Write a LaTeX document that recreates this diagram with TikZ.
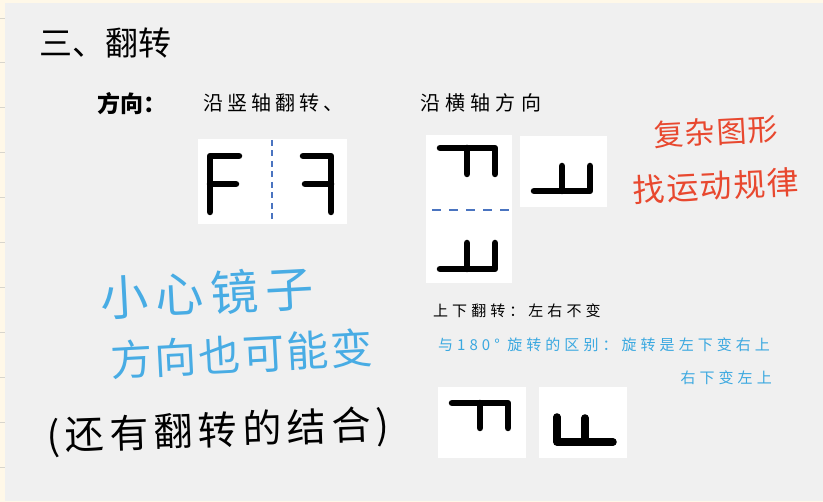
\documentclass[tikz,border=0pt]{standalone}
\usepackage{fontspec}
\setmainfont{Noto Sans CJK SC}
\usepackage{xcolor}
\usepackage{tikz}
\usetikzlibrary{positioning}

\definecolor{paper}{HTML}{F0F0F0}
\definecolor{margin}{HTML}{FFF8E8}
\definecolor{ruleline}{HTML}{D8D5CC}
\definecolor{axisblue}{HTML}{4A74C0}
\definecolor{noteblue}{HTML}{3AA8E0}
\definecolor{inkblue}{HTML}{48ACE4}
\definecolor{inkred}{HTML}{E8482F}

\newcommand{\fs}[1]{\fontsize{#1}{#1}\selectfont}
\newcommand{\spaced}[1]{\addfontfeature{LetterSpace=#1}}

\begin{document}
\begin{tikzpicture}[x=1pt,y=-1pt,
  glyph/.style={line width=6.5pt, line cap=round, line join=round},
  axisline/.style={axisblue, line width=1.8pt},
  card/.style={fill=white},
  txt/.style={inner sep=0pt, anchor=west},
  hand/.style={inner sep=0pt}]

  % Page and margin
  \useasboundingbox (0,0) rectangle (823,502);
  \fill[margin] (0,0) rectangle (823,502);
  \fill[paper] (5,3) rectangle (823,501);
  \foreach \k in {0,...,10}
    \draw[ruleline, line width=0.8pt] (0,18+44.9*\k) -- (5,18+44.9*\k);

  % Title
  \node[txt] (title) at (39,43) {\fs{33}三、翻转};
  \node[txt] (dir) at (97,104) {\fs{23}\bfseries 方向：};
  \node[txt] (vert) at (203,103) {\fs{20}\spaced{20}沿竖轴翻转、};
  \node[txt] (horz) at (420,103) {\fs{20}\spaced{26}沿横轴方向};

  % Vertical axis flip
  \fill[card] (198,139) rectangle (347,224);
  \draw[glyph] (239,156) -- (210,156) -- (210,212);
  \draw[glyph] (210,184) -- (236,184);
  \draw[glyph] (303,156) -- (331,156) -- (331,212);
  \draw[glyph] (331,184) -- (305,184);
  \draw[axisline, dash pattern=on 6pt off 4.5pt] (272,140) -- (272,219);

  % Horizontal axis flip
  \fill[card] (426,135) rectangle (512,283);
  \fill[card] (520,136) rectangle (607,207);
  \draw[glyph] (440,148) -- (495,148) -- (495,174);
  \draw[glyph] (467,148) -- (467,174);
  \draw[axisline, dash pattern=on 9pt off 8pt] (432,210) -- (512,210);
  \draw[glyph] (440,269) -- (495,269) -- (495,243);
  \draw[glyph] (467,269) -- (467,243);
  \draw[glyph] (534,191) -- (590,191) -- (590,166);
  \draw[glyph] (562,191) -- (562,166);

  % Notes
  \node[txt] (updown) at (433,311) {\fs{15}\spaced{27}上下翻转：左右不变};
  \node[txt, noteblue] (diff) at (438,345) {\fs{15}\spaced{27}与180° 旋转的区别：旋转是左下变右上};
  \node[inner sep=0pt, anchor=east, noteblue] (diff2) at (772,378) {\fs{15}\spaced{27}右下变左上};

  % 180 degree rotation
  \fill[card] (438,387) rectangle (526,458);
  \fill[card] (539,387) rectangle (627,458);
  \draw[glyph] (452,403) -- (508,403) -- (508,428);
  \draw[glyph] (480,403) -- (480,428);
  \draw[glyph, line width=7.5pt] (557,417) -- (557,442) -- (613,442);
  \draw[glyph, line width=7.5pt] (585,418) -- (585,442);

  % Handwritten remarks
  \node[hand, inkred, rotate=3] (hint1) at (716,132) {\fs{30}\spaced{5}复杂图形};
  \node[hand, inkred, rotate=3] (hint2) at (716,186) {\fs{32}\spaced{5}找运动规律};
  \node[hand, inkblue, rotate=3] (warn1) at (207,293) {\fs{48}\spaced{15}小心镜子};
  \node[hand, inkblue, rotate=3] (warn2) at (242,354) {\fs{42}\spaced{5}方向也可能变};
  \node[hand, rotate=2] (warn3) at (218,432) {\fs{39}\spaced{14}(还有翻转的结合)};
\end{tikzpicture}
\end{document}
